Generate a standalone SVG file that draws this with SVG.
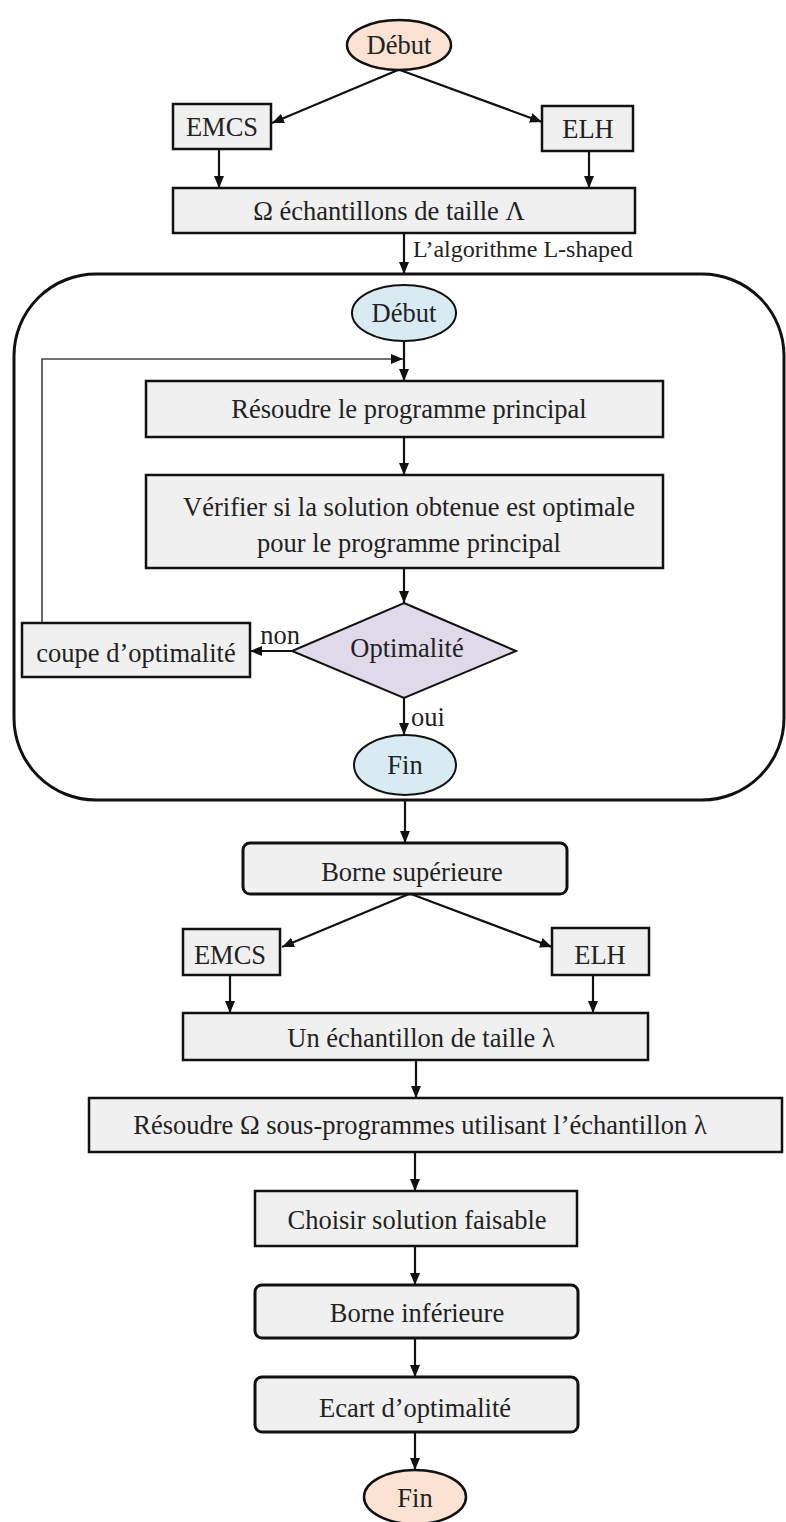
<svg xmlns="http://www.w3.org/2000/svg" width="786" height="1522" viewBox="0 0 786 1522">
<style>
text{font-family:"Liberation Serif","Times New Roman",serif;font-size:26.5px;fill:#222;text-anchor:middle}
.box{fill:#f0f0f0;stroke:#111;stroke-width:2.5}
.term{fill:#fbe2d2;stroke:#111;stroke-width:2.5}
.inner{fill:#d8ebf3;stroke:#111;stroke-width:2}
.dia{fill:#dfd9ea;stroke:#111;stroke-width:2}
.c{fill:none;stroke:#111;stroke-width:2.2;marker-end:url(#ah)}
.lbl{text-anchor:start}
</style>
<defs>
<marker id="ah" markerUnits="userSpaceOnUse" markerWidth="12" markerHeight="10" refX="12" refY="5" orient="auto">
<path d="M0,0 L12,5 L0,10 z" fill="#111"/>
</marker>
</defs>
<rect width="786" height="1522" fill="#fff"/>

<g id="container">
<rect x="14" y="274" width="770" height="526" rx="82" ry="82" fill="none" stroke="#111" stroke-width="3"/>
</g>

<g id="connectors">
<path class="c" d="M398,70 L272,123"/>
<path class="c" d="M400,70 L542,122"/>
<path class="c" d="M219,149 L219,188"/>
<path class="c" d="M589,151 L589,188"/>
<path class="c" d="M404,233 L404,274"/>
<path class="c" d="M404,342 L404,381"/>
<path class="c" d="M42,623 L42,359 L403,359" style="stroke:#444;stroke-width:1.6"/>
<path class="c" d="M404,437 L404,475"/>
<path class="c" d="M404,568 L404,603"/>
<path class="c" d="M292,651 L250,651"/>
<path class="c" d="M404,698 L404,735"/>
<path class="c" d="M405,800 L405,843"/>
<path class="c" d="M409,894 L282,947"/>
<path class="c" d="M411,894 L552,947"/>
<path class="c" d="M230,975 L230,1013"/>
<path class="c" d="M593,975 L593,1013"/>
<path class="c" d="M416,1060 L416,1098"/>
<path class="c" d="M415,1152 L415,1191"/>
<path class="c" d="M415,1246 L415,1285"/>
<path class="c" d="M415,1338 L415,1377"/>
<path class="c" d="M415,1432 L415,1470"/>
</g>

<g id="debut1"><ellipse class="term" cx="399" cy="45" rx="52" ry="25"/><text x="399" y="54">Début</text></g>
<g id="emcs1"><rect class="box" x="173" y="104" width="98" height="45"/><text x="222" y="136">EMCS</text></g>
<g id="elh1"><rect class="box" x="542" y="106" width="91" height="45"/><text x="588" y="138">ELH</text></g>
<g id="omega"><rect class="box" x="173" y="188" width="462" height="45"/><text x="389" y="220">Ω échantillons de taille Λ</text></g>
<g id="lshaped-label"><text class="lbl" x="413" y="257" style="font-size:24px">L’algorithme L-shaped</text></g>

<g id="debut2"><ellipse class="inner" cx="404" cy="313" rx="52" ry="28"/><text x="404" y="322">Début</text></g>
<g id="resoudre"><rect class="box" x="146" y="381" width="517" height="56"/><text x="409" y="418">Résoudre le programme principal</text></g>
<g id="verifier"><rect class="box" x="146" y="475" width="517" height="93"/><text x="409" y="516">Vérifier si la solution obtenue est optimale</text><text x="409" y="552">pour le programme principal</text></g>
<g id="optimalite"><polygon class="dia" points="404,603 516,651 404,698 292,651"/><text x="407" y="657">Optimalité</text></g>
<g id="non-label"><text x="280" y="644">non</text></g>
<g id="coupe"><rect class="box" x="22" y="623" width="228" height="54"/><text x="136" y="662">coupe d’optimalité</text></g>
<g id="oui-label"><text class="lbl" x="411" y="726">oui</text></g>
<g id="fin1"><ellipse class="inner" cx="405" cy="765" rx="51" ry="30"/><text x="405" y="774">Fin</text></g>

<g id="borne-sup"><rect class="box" x="243" y="843" width="324" height="51" rx="7" style="stroke-width:3"/><text x="412" y="881">Borne supérieure</text></g>
<g id="emcs2"><rect class="box" x="183" y="929" width="97" height="46"/><text x="230" y="964">EMCS</text></g>
<g id="elh2"><rect class="box" x="552" y="928" width="97" height="47"/><text x="600" y="964">ELH</text></g>
<g id="un-echantillon"><rect class="box" x="183" y="1013" width="465" height="47"/><text x="421" y="1047">Un échantillon de taille λ</text></g>
<g id="resoudre-omega"><rect class="box" x="89" y="1098" width="693" height="54"/><text x="420" y="1134">Résoudre Ω sous-programmes utilisant l’échantillon λ</text></g>
<g id="choisir"><rect class="box" x="255" y="1191" width="322" height="55"/><text x="417" y="1229">Choisir solution faisable</text></g>
<g id="borne-inf"><rect class="box" x="255" y="1285" width="323" height="53" rx="7" style="stroke-width:3"/><text x="417" y="1322">Borne inférieure</text></g>
<g id="ecart"><rect class="box" x="255" y="1377" width="323" height="55" rx="7" style="stroke-width:3"/><text x="415" y="1417">Ecart d’optimalité</text></g>
<g id="fin2"><ellipse class="term" cx="415" cy="1497" rx="51" ry="27"/><text x="415" y="1507">Fin</text></g>
</svg>
